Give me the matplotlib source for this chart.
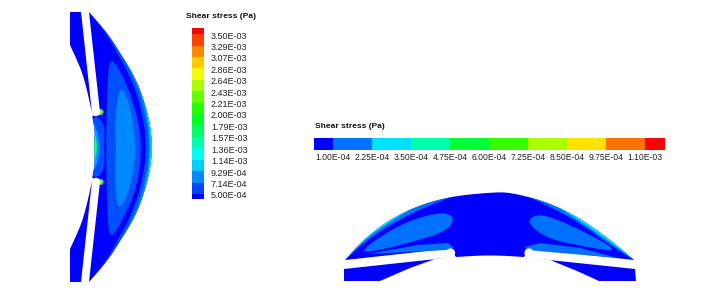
import numpy as np
import matplotlib
matplotlib.use('Agg')
import matplotlib.pyplot as plt
from matplotlib.patches import Polygon, Circle

plt.rcParams['font.family'] = ['Liberation Sans', 'DejaVu Sans']

# legend values
v_labels = ['5.00E-04', '7.14E-04', '9.29E-04', '1.14E-03', '1.36E-03', '1.57E-03', '1.79E-03', '2.00E-03',
            '2.21E-03', '2.43E-03', '2.64E-03', '2.86E-03', '3.07E-03', '3.29E-03', '3.50E-03']
v_colors = ['#0000ff', '#0044ff', '#0088ff', '#00ccff', '#00ffee', '#00ffaa', '#00ff66', '#00ff22',
            '#22ff00', '#66ff00', '#aaff00', '#eeff00', '#ffcc00', '#ff8800', '#ff4400', '#ff0000']
h_labels = ['1.00E-04', '2.25E-04', '3.50E-04', '4.75E-04', '6.00E-04', '7.25E-04', '8.50E-04', '9.75E-04', '1.10E-03']
h_colors = ['#0000ff', '#0071ff', '#00e2ff', '#00ffaa', '#00ff38', '#38ff00', '#aaff00', '#ffe200', '#ff7100', '#ff0000']
title = 'Shear stress (Pa)'

# left section outline, upper half (pixels), lower half is the mirror image
arc_y = [12, 28, 40, 53, 67, 82, 98, 115, 130, 147]
arc_x = [89, 103, 112, 120, 129, 137, 143, 148, 151, 152]
band1_x = [89, 102, 110, 117, 125, 132, 138, 142, 145, 146]
band2_x = [89, 103, 112, 120, 128, 135, 141, 145, 148, 149]
band3_x = [89, 103, 112, 120, 129, 137, 143, 147, 149.5, 150.5]
band4_x = [89, 103, 112, 120, 129, 137, 143, 148, 150.5, 151]
inner_y = [118, 125, 133, 147]
inner_x = [92.5, 94, 95, 94]
wing_y = [45, 58, 72, 90, 113]
wing_x = [70, 76, 82, 87, 92]
lobe1 = [(109, 56), (120, 70), (133, 100), (140, 130), (141, 147), (140, 170), (133, 198), (119, 227), (109, 240),
         (107, 200), (106, 147), (107, 100)]
lobe2 = [(120, 84), (129, 102), (135, 133), (135, 165), (128, 195), (118, 212), (115, 181), (116, 147), (115, 118)]
throat1 = [(92, 116), (100, 118), (105, 128), (104, 147), (105, 166), (100, 176), (92, 178), (90, 147)]
throat2 = [(93, 122), (97, 130), (100, 147), (97, 164), (93, 172), (90, 147)]
throat3 = [(93, 128), (96, 138), (97, 147), (96, 156), (93, 166), (90, 147)]

# right section outline
top_x = [345, 368, 402, 445, 495, 513, 547, 580, 613, 634]
top_y = [260, 235, 212, 197, 192, 193, 202, 218, 242, 260]
t1_left = [(345, 260), (368, 239), (402, 218), (437, 202), (470, 191)]
t1_right = [(515, 191), (547, 205), (578, 222), (610, 245), (634, 260)]
t2_left = [(345, 260), (368, 236.5), (402, 214), (425, 202)]
t2_right = [(545, 199), (578, 219.5), (610, 242), (634, 260)]
floor_x = [456, 480, 500, 524]
floor_y = [257, 255.5, 255.5, 257]
r_lobe1 = [(358, 252), (400, 224), (435, 213), (451, 214), (454, 222), (443, 233), (408, 243), (376, 251)]
r_lobe2 = [(526, 222), (538, 213), (569, 224), (624, 253), (580, 246), (546, 238)]
r_lobe3 = [(368, 254), (418, 245), (448, 243), (454, 248), (446, 250)]
r_lobe4 = [(525, 247), (540, 243), (580, 248), (618, 258), (527, 250)]
foot_l = [(450, 257.5), (344, 269), (344, 281), (380, 281), (410, 268), (435, 259)]
foot_r = [(530, 258), (635, 269), (636, 281), (599, 281), (577, 271), (550, 260)]


def smooth(pts, closed=False):
    # chaikin corner cutting, ends stay where they are on open edges
    pts = np.array(pts, dtype=float)
    for _ in range(3):
        if closed:
            a, b = pts, np.roll(pts, -1, axis=0)
            pts = np.column_stack([0.75 * a + 0.25 * b, 0.25 * a + 0.75 * b]).reshape(-1, 2)
        else:
            a, b = pts[:-1], pts[1:]
            mid = np.column_stack([0.75 * a + 0.25 * b, 0.25 * a + 0.75 * b]).reshape(-1, 2)
            pts = np.vstack([pts[0], mid, pts[-1]])
    return pts


def mirror(xs, ys):
    half = list(zip(xs, ys))
    return half + [(x, 294 - y) for x, y in half[-2::-1]]


fig = plt.figure(figsize=(7.17, 2.96), dpi=100)
ax = fig.add_axes([0, 0, 1, 1])
ax.set_xlim(0, 717)
ax.set_ylim(296, 0)
ax.axis('off')

# left section
outer = smooth(mirror(arc_x, arc_y))
inner = smooth(mirror(inner_x, inner_y))
body = np.vstack([outer, [(100, 182), (92.5, 178)], inner[::-1], [(92.5, 116), (100, 112)]])
body_patch = Polygon(body, closed=True, fc='#0000ff', ec='none', zorder=1)
ax.add_patch(body_patch)
wing = smooth(list(zip(wing_x, wing_y)))
ax.add_patch(Polygon(np.vstack([[(81, 12), (70, 12)], wing]), fc='#0000ff', ec='none', zorder=1))
ax.add_patch(Polygon(np.vstack([[(81, 282), (70, 282)], wing * [1, -1] + [0, 294]]), fc='#0000ff', ec='none', zorder=1))

for lobe, c in [(lobe1, '#0050ff'), (lobe2, '#0088ff')]:
    ax.add_patch(Polygon(smooth(lobe, closed=True), fc=c, ec='none', zorder=2))

# wall bands on the outer arc
for bx, c in [(band1_x, '#0050ff'), (band2_x, '#0088ff'), (band3_x, '#00e0ff'), (band4_x, '#00ff88')]:
    edge = smooth(mirror(bx, arc_y))
    p = ax.add_patch(Polygon(np.vstack([outer, edge[::-1]]), fc=c, ec='none', zorder=3))
    p.set_clip_path(body_patch)

# throat region between the slit tips
for shape, c in [(throat1, '#0050ff'), (throat2, '#00a0ff'), (throat3, '#22ff66')]:
    p = ax.add_patch(Polygon(smooth(shape, closed=True), fc=c, ec='none', zorder=3))
    p.set_clip_path(body_patch)
for y in [112, 182]:
    ax.add_patch(Circle((100.5, y), 3, fc='#00ff66', ec='none', zorder=3))
    ax.add_patch(Circle((100.5, y), 1.7, fc='#ffcc00', ec='none', zorder=3))
    ax.add_patch(Circle((96, y), 4.2, fc='white', ec='none', zorder=4))

# right section
top = smooth(list(zip(top_x, top_y)))
floor = smooth(list(zip(floor_x, floor_y)))
shell = Polygon(np.vstack([top, [(529, 248.5)], floor[::-1], [(450, 248.5)]]), fc='#0000ff', ec='none', zorder=1)
ax.add_patch(shell)
for lobe in [r_lobe1, r_lobe2]:
    ax.add_patch(Polygon(smooth(lobe, closed=True), fc='#0071ff', ec='none', zorder=2))
for lobe in [r_lobe3, r_lobe4]:
    ax.add_patch(Polygon(lobe, closed=True, fc='#0071ff', ec='none', zorder=2))
for pts, far, c in [(t1_left, [(470, 180), (335, 180), (335, 260)], '#0071ff'),
                    (t1_right, [(645, 260), (645, 180), (515, 180)], '#0071ff'),
                    (t2_left, [(425, 180), (335, 180), (335, 260)], '#00e2ff'),
                    (t2_right, [(645, 260), (645, 180), (545, 180)], '#00e2ff')]:
    p = ax.add_patch(Polygon(np.vstack([smooth(pts), far]), fc=c, ec='none', zorder=3))
    p.set_clip_path(shell)
ax.add_patch(Polygon(foot_l, closed=True, fc='#0000ff', ec='none', zorder=1))
ax.add_patch(Polygon(foot_r, closed=True, fc='#0000ff', ec='none', zorder=1))
ax.add_patch(Circle((450.5, 253), 4.6, fc='white', ec='none', zorder=4))
ax.add_patch(Circle((529, 253), 4.6, fc='white', ec='none', zorder=4))

# vertical legend
v_edges = [199, 193.9, 182.5, 171, 159.6, 148.2, 136.8, 125.4, 114, 102.5, 91.1, 79.7, 68.3, 56.9, 45.5, 34.3, 28]
ax.bar(192, np.diff(v_edges), width=12, bottom=v_edges[:-1], align='edge', color=v_colors, zorder=2)
for y, lab in zip(v_edges[1:-1], v_labels):
    ax.text(211, y + 2, lab, fontsize=6.5, color='#222222', va='center', ha='left')
ax.text(186, 16, title, fontsize=6.1, fontweight='bold', color='#111111', va='center', ha='left')

# horizontal legend
edges = [314, 333.3, 372.3, 411.3, 450.3, 488.9, 528, 567, 606, 645, 665]
ax.bar(edges[:-1], 12, width=np.diff(edges), bottom=138, align='edge', color=h_colors, zorder=2)
for x, lab in zip(edges[1:-1], h_labels):
    ax.text(x, 158, lab, fontsize=6.2, color='#222222', va='center', ha='center')
ax.text(315, 127, title, fontsize=6.05, fontweight='bold', color='#111111', va='center', ha='left')

fig.savefig('out.png', dpi=100)
